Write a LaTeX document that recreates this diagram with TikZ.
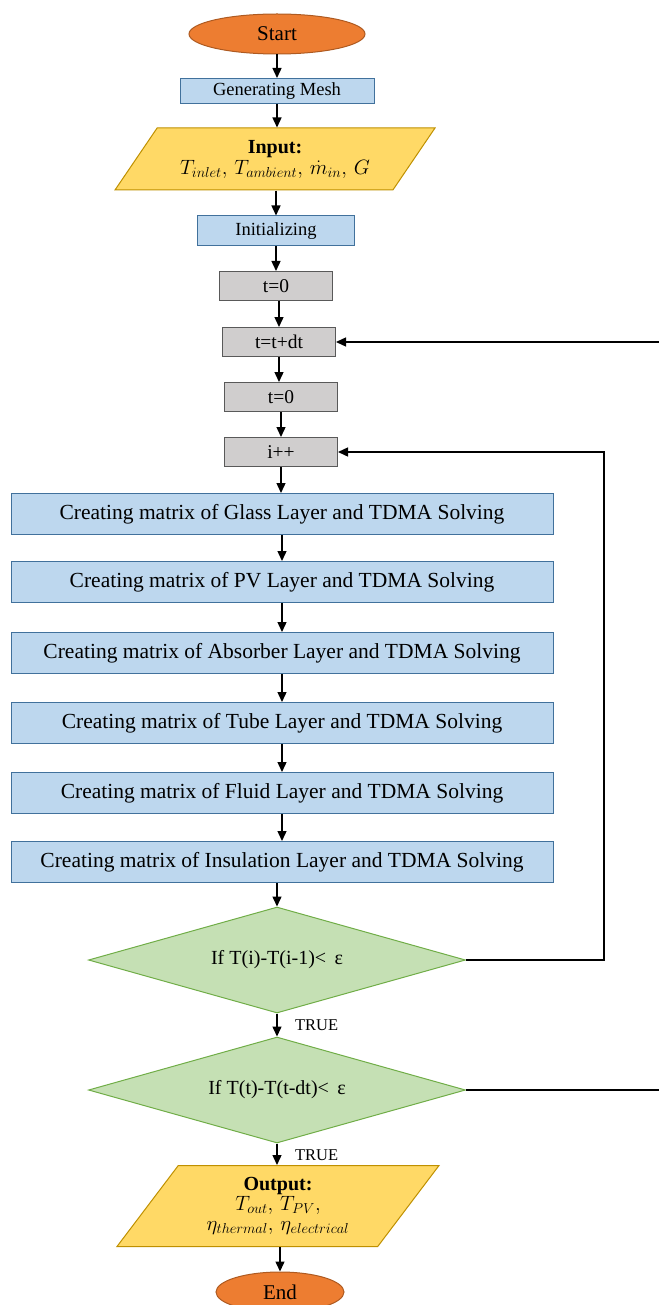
\documentclass[tikz,border=0pt]{standalone}
\usepackage{fontspec}
\setmainfont{Liberation Serif}
\usetikzlibrary{arrows.meta,shapes.geometric}

\definecolor{startfill}{HTML}{ED7D31}
\definecolor{startline}{HTML}{AE5A21}
\definecolor{procfill}{HTML}{BDD7EE}
\definecolor{procline}{HTML}{41719C}
\definecolor{iofill}{HTML}{FFD966}
\definecolor{ioline}{HTML}{BF9000}
\definecolor{stepfill}{HTML}{D0CECE}
\definecolor{stepline}{HTML}{595959}
\definecolor{testfill}{HTML}{C5E0B4}
\definecolor{testline}{HTML}{70AD47}

\begin{document}
\begin{tikzpicture}[x=1pt, y=-1pt, >={Triangle[width=9pt,length=10pt]}, line width=1.4pt,
	terminal/.style={ellipse, draw=startline, fill=startfill, line width=1pt, minimum width=176pt, minimum height=40pt, font=\fontsize{21}{24}\selectfont},
	process/.style={rectangle, draw=procline, fill=procfill, line width=1pt, minimum height=25pt, font=\fontsize{18.5}{21}\selectfont},
	counter/.style={rectangle, draw=stepline, fill=stepfill, line width=1pt, minimum width=113pt, minimum height=29pt, font=\fontsize{19.5}{22}\selectfont},
	layer/.style={rectangle, draw=procline, fill=procfill, line width=1pt, minimum width=542pt, minimum height=41pt, font=\fontsize{21.5}{24}\selectfont},
	inout/.style={trapezium, trapezium left angle=45, trapezium right angle=135, trapezium stretches body, draw=ioline, fill=iofill, line width=1pt, align=center, inner sep=2pt, font=\fontsize{20}{23}\selectfont},
	test/.style={diamond, aspect=3.55, inner sep=0pt, draw=testline, fill=testfill, line width=1pt, minimum width=377pt, minimum height=106pt, font=\fontsize{20}{23}\selectfont},
	flag/.style={font=\fontsize{16.5}{19}\selectfont}]

		\useasboundingbox (0,0) rectangle (658,1305);

		\node[terminal] (start) at (277,34) {Start};
		\node[process, minimum width=194pt] (mesh) at (277,91) {Generating Mesh};
		\node[inout, minimum width=320pt, minimum height=62pt] (input) at (275,159) {\textbf{Input:}\\[-2pt]$T_{inlet},\, T_{ambient},\, \dot{m}_{in},\, G$};
		\node[process, minimum width=157pt, minimum height=30pt] (init) at (276,231) {Initializing};
		\node[counter] (t0) at (276,286) {t=0};
		\node[counter] (tdt) at (279,342) {t=t+dt};
		\node[counter] (t0b) at (281,397) {t=0};
		\node[counter] (inc) at (281,452) {i++};
		\node[layer] (glass) at (282,514) {Creating matrix of Glass Layer and TDMA Solving};
		\node[layer] (pv) at (282,582) {Creating matrix of PV Layer and TDMA Solving};
		\node[layer] (abs) at (282,653) {Creating matrix of Absorber Layer and TDMA Solving};
		\node[layer] (tube) at (282,723) {Creating matrix of Tube Layer and TDMA Solving};
		\node[layer] (fluid) at (282,793) {Creating matrix of Fluid Layer and TDMA Solving};
		\node[layer] (ins) at (282,862) {Creating matrix of Insulation Layer and TDMA Solving};
		\node[test] (chki) at (277,960) {If T(i)-T(i-1)<\, ε};
		\node[test] (chkt) at (277,1090) {If T(t)-T(t-dt)<\, ε};
		\node[inout, minimum width=322pt, minimum height=81pt] (output) at (278,1206) {\textbf{Output:}\\[-3pt]$T_{out},\, T_{PV},$\\[-3pt]$\eta_{thermal},\, \eta_{electrical}$};
		\node[terminal, minimum width=128pt, minimum height=40pt] (end) at (280,1292) {End};

		\path[->]
		(start) edge (start.south |- mesh.north)
		(mesh) edge (mesh.south |- input.north)
		(input.south -| init) edge (init)
		(init) edge (init.south |- t0.north)
		(t0.south -| tdt) edge (tdt)
		(tdt) edge (tdt.south |- t0b.north)
		(t0b) edge (t0b.south |- inc.north)
		(inc) edge (inc.south |- glass.north)
		(glass) edge (pv)
		(pv) edge (abs)
		(abs) edge (tube)
		(tube) edge (fluid)
		(fluid) edge (ins)
		(ins.south -| chki) edge (chki)
		(chki) edge node[flag, right=14pt] {TRUE} (chkt)
		(chkt) edge node[flag, right=14pt, pos=0.55] {TRUE} (output.north -| chkt)
		(output.south -| end) edge (end);

		\draw[->] (chki.east) -- (604,960) |- (inc.east);
		\draw[->] (chkt.east) -- (690,1090) |- (tdt.east);

\end{tikzpicture}
\end{document}
